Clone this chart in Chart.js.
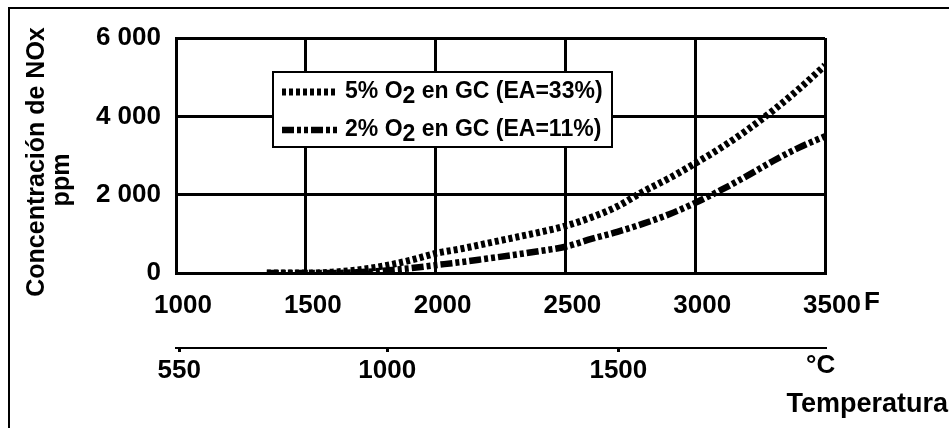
<!DOCTYPE html>
<html><head><meta charset="utf-8">
<script src="https://cdn.jsdelivr.net/npm/chart.js@4.4.0/dist/chart.umd.min.js"></script>
<style>html,body{margin:0;padding:0;background:#fff}#wrap{width:949px;height:428px;position:relative}</style>
</head><body><div id="wrap"><canvas id="c" width="949" height="428"></canvas></div>
<script>
// ---- data ----
const tempF = [1350,1500,1600,1700,1800,1900,2000,2100,2200,2300,2400,2500,2600,2700,2800,2900,3000,3100,3200,3300,3400,3500];
const nox5  = [0,0,20,80,180,320,500,620,760,900,1040,1200,1420,1700,2080,2420,2800,3200,3650,4150,4700,5300];
const nox2  = [0,0,0,20,60,120,200,280,370,460,560,670,870,1050,1260,1500,1790,2120,2480,2860,3200,3490];
const seriesLabels = ['5% O₂ en GC (EA=33%)', '2% O₂ en GC (EA=11%)'];
const fTicks = [1000,1500,2000,2500,3000,3500];
const fTickLabels = ['1000','1500','2000','2500','3000','3500'];
const cTicks = [550,1000,1500];
const cTickLabels = ['550','1000','1500'];
const yTicks = [0,2000,4000,6000];
const yTickLabels = ['0','2 000','4 000','6 000'];
const cRange = [543, 1947];
const yTitle = ['Concentración de NOx','ppm'];

const FONT = '"Liberation Sans", Arial, sans-serif';
const tickFont = {family: FONT, size: 26, weight: 'bold'};

const bgPlugin = {
  id:'bg',
  beforeDraw(chart){
    const c = chart.ctx; c.save(); c.fillStyle='#fff'; c.fillRect(0,0,chart.width,chart.height); c.restore();
  }
};

function drawSub(c, text, x, y, subDy){
  const parts = text.split('₂');
  let cx = x;
  parts.forEach((p,i)=>{
    c.fillText(p, cx, y); cx += c.measureText(p).width;
    if(i < parts.length-1){ c.fillText('2', cx, y+subDy); cx += c.measureText('2').width; }
  });
}

const textPlugin = {
  id:'texts',
  afterDraw(chart){
    const c = chart.ctx; c.save();
    c.strokeStyle='#000'; c.lineWidth=2;
    c.beginPath(); c.moveTo(9, chart.height); c.lineTo(9, 8); c.lineTo(chart.width, 8); c.stroke();
    c.fillStyle='#000'; c.textBaseline='middle';
    c.font = 'bold 25px ' + FONT; c.textAlign='center';
    c.save(); c.translate(37,162); c.rotate(-Math.PI/2); c.fillText(yTitle[0],0,0); c.restore();
    c.save(); c.translate(62,180); c.rotate(-Math.PI/2); c.fillText(yTitle[1],0,0); c.restore();
    c.textAlign='left'; c.font = 'bold 26px ' + FONT;
    c.fillText('F', 864, 303);
    c.fillText('°C', 806, 366);
    c.textAlign='right'; c.font = 'bold 27px ' + FONT;
    c.fillText('Temperatura', 948, 405);
    const bx=273, by=72, bw=339, bh=75;
    c.fillStyle='#fff'; c.fillRect(bx,by,bw,bh);
    c.strokeStyle='#000'; c.lineWidth=2; c.strokeRect(bx,by,bw,bh);
    const rows=[92,130];
    chart.data.datasets.forEach((ds,i)=>{
      c.save();
      c.strokeStyle=ds.borderColor; c.lineWidth=ds.borderWidth; c.setLineDash(ds.borderDash); c.lineCap='butt';
      c.beginPath(); c.moveTo(282, rows[i]); c.lineTo(338, rows[i]); c.stroke();
      c.restore();
      c.fillStyle='#000'; c.textAlign='left'; c.textBaseline='middle'; c.font='bold 23px ' + FONT;
      drawSub(c, ds.label, 345, rows[i], 5);
    });
    c.restore();
  }
};

const ctx = document.getElementById('c').getContext('2d');
new Chart(ctx, {
  type:'line',
  data:{datasets:[
    {label: seriesLabels[0], data: tempF.map((x,i)=>({x, y:nox5[i]})), borderColor:'#000', borderWidth:7, borderDash:[4,3], borderCapStyle:'butt', pointRadius:0, cubicInterpolationMode:'monotone', fill:false},
    {label: seriesLabels[1], data: tempF.map((x,i)=>({x, y:nox2[i]})), borderColor:'#000', borderWidth:6.5, borderDash:[12,3,4,3,4,3], borderCapStyle:'butt', pointRadius:0, cubicInterpolationMode:'monotone', fill:false}
  ]},
  options:{
    responsive:false, animation:false, devicePixelRatio:1,
    layout:{padding:{top:38,right:124,bottom:40,left:0}},
    plugins:{legend:{display:false}, tooltip:{enabled:false}},
    scales:{
      x:{type:'linear', position:'bottom', weight:0, min:fTicks[0], max:fTicks[fTicks.length-1],
        afterBuildTicks:s=>{s.ticks=fTicks.map(v=>({value:v}));},
        afterFit:s=>{s.height=75;},
        grid:{color:'#000', lineWidth:3, drawTicks:false},
        border:{color:'#000', width:3},
        ticks:{color:'#000', font:tickFont, padding:17, labelOffset:7, maxRotation:0, autoSkip:false,
          callback:(v)=>fTickLabels[fTicks.indexOf(v)]}
      },
      c:{type:'linear', position:'bottom', weight:1, min:cRange[0], max:cRange[1],
        afterBuildTicks:s=>{s.ticks=cTicks.map(v=>({value:v}));},
        afterFit:s=>{s.height=40;},
        grid:{drawOnChartArea:false, drawTicks:true, tickLength:4, color:'#000', lineWidth:3},
        border:{color:'#000', width:2},
        ticks:{color:'#000', font:tickFont, padding:3, maxRotation:0, autoSkip:false,
          callback:(v)=>cTickLabels[cTicks.indexOf(v)]}
      },
      y:{type:'linear', position:'left', min:yTicks[0], max:yTicks[yTicks.length-1],
        afterBuildTicks:s=>{s.ticks=yTicks.map(v=>({value:v}));},
        afterFit:s=>{s.width=176;},
        grid:{color:'#000', lineWidth:3, drawTicks:false},
        border:{color:'#000', width:3},
        ticks:{color:'#000', font:tickFont, padding:15,
          callback:(v)=>yTickLabels[yTicks.indexOf(v)]}
      }
    }
  },
  plugins:[bgPlugin, textPlugin]
});
</script></body></html>
